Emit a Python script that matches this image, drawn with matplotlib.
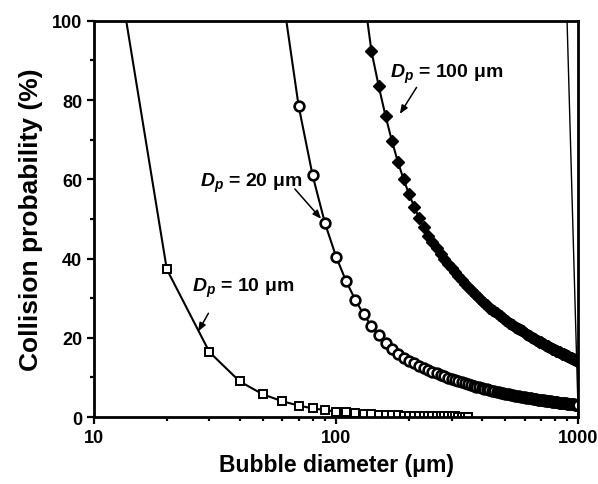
import matplotlib
matplotlib.use('Agg')
import matplotlib.pyplot as plt
from matplotlib.ticker import FixedLocator, NullFormatter

plt.rcParams['font.family'] = ['Liberation Sans', 'DejaVu Sans']
plt.rcParams['font.weight'] = 'bold'
plt.rcParams['mathtext.fontset'] = 'custom'
plt.rcParams['mathtext.it'] = 'Liberation Sans:italic:bold'
plt.rcParams['mathtext.rm'] = 'Liberation Sans:bold'
plt.rcParams['mathtext.bf'] = 'Liberation Sans:bold'

# bubble diameters (um), one point every 10 um
d10_x = list(range(10, 351, 10))
d20_x = list(range(60, 1001, 10))
d100_x = list(range(130, 1001, 10))

# collision probability (%)
d10_y = [150.0, 37.3, 16.4, 9.0, 5.7, 4.0, 2.9, 2.2, 1.75, 1.4,
         1.16, 0.97, 0.83, 0.71, 0.62, 0.55, 0.48, 0.43, 0.39, 0.35,
         0.32, 0.29, 0.27, 0.24, 0.22, 0.21, 0.19, 0.18, 0.17, 0.16,
         0.15, 0.14, 0.13, 0.12, 0.11]

d20_y = [107.0, 78.6, 61.0, 48.9, 40.5,
         34.3, 29.6, 25.9, 23.0, 20.6, 18.7, 17.2, 16.0, 15.0, 14.2,
         13.56, 12.97, 12.43, 11.94, 11.49, 11.07, 10.68, 10.32, 9.98, 9.66,
         9.36, 9.08, 8.82, 8.57, 8.34, 8.12, 7.91, 7.71, 7.52, 7.34,
         7.17, 7.01, 6.85, 6.70, 6.56, 6.42, 6.29, 6.17, 6.05, 5.93,
         5.82, 5.71, 5.61, 5.51, 5.42, 5.33, 5.24, 5.15, 5.07, 4.99,
         4.91, 4.83, 4.76, 4.69, 4.62, 4.55, 4.49, 4.43, 4.37, 4.31,
         4.25, 4.19, 4.14, 4.09, 4.04, 3.99, 3.94, 3.89, 3.84, 3.79,
         3.75, 3.71, 3.67, 3.63, 3.59, 3.55, 3.51, 3.47, 3.43, 3.39,
         3.35, 3.32, 3.28, 3.25, 3.22, 3.18, 3.15, 3.12, 3.09, 3.06]

d100_y = [107.0, 92.3, 83.5, 76.0, 69.7, 64.4, 60.0, 56.3,
          53.1, 50.3, 47.9, 45.8, 44.1, 42.6, 41.2, 39.9, 38.7, 37.6,
          36.5, 35.5, 34.6, 33.7, 32.9, 32.1, 31.4, 30.7, 30.0, 29.4,
          28.8, 28.2, 27.6, 27.1, 26.65, 26.25, 25.85, 25.4, 25.0, 24.6,
          24.2, 23.85, 23.5, 23.15, 22.8, 22.5, 22.2, 21.9, 21.6, 21.3,
          21.0, 20.75, 20.5, 20.25, 20.0, 19.75, 19.5, 19.3, 19.05, 18.85,
          18.65, 18.45, 18.25, 18.05, 17.85, 17.65, 17.45, 17.3, 17.1, 16.95,
          16.8, 16.6, 16.45, 16.3, 16.15, 16.0, 15.85, 15.7, 15.55, 15.4,
          15.3, 15.15, 15.0, 14.9, 14.75, 14.6, 14.5, 14.4, 14.25, 14.1]

# stray steep line at the right edge of the original plot
edge_x = [880, 1000]
edge_y = [120, 0]

fig = plt.figure(figsize=(5.98, 4.85), dpi=100)
ax = fig.add_axes([0.157, 0.138, 0.810, 0.817])

ax.plot(d10_x, d10_y, color='k', lw=1.5, marker='s', ms=5.5, mfc='white', mec='k', mew=1.4)
ax.plot(d20_x, d20_y, color='k', lw=1.5, marker='o', ms=7, mfc='white', mec='k', mew=1.9)
ax.plot(d100_x, d100_y, color='k', lw=1.5, marker='D', ms=6.5, mfc='k', mec='k')
ax.plot(edge_x, edge_y, color='k', lw=1.0)

ax.set_xscale('log')
ax.set_xlim(10, 1000)
ax.set_ylim(0, 100)
ax.xaxis.set_major_locator(FixedLocator([10, 100, 1000]))
ax.set_xticklabels(['10', '100', '1000'])
ax.xaxis.set_minor_locator(FixedLocator([20, 30, 40, 50, 60, 70, 80, 90,
                                         200, 300, 400, 500, 600, 700, 800, 900]))
ax.xaxis.set_minor_formatter(NullFormatter())
ax.yaxis.set_major_locator(FixedLocator([0, 20, 40, 60, 80, 100]))
ax.yaxis.set_minor_locator(FixedLocator([10, 30, 50, 70, 90]))

ax.tick_params(which='major', direction='out', length=5, width=1.6, labelsize=13)
ax.tick_params(which='minor', direction='out', length=3, width=1.6)
for s in ax.spines.values():
    s.set_linewidth(2)

ax.set_xlabel('Bubble diameter (μm)', fontsize=16.5, fontweight='bold', labelpad=5)
ax.set_ylabel('Collision probability (%)', fontsize=19, fontweight='bold', labelpad=6)

arrow = dict(arrowstyle='-|>,head_length=0.5,head_width=0.2', color='k', lw=1.1)
ax.text(25.4, 31.8, r'$D_p$ = 10 μm', fontsize=14, fontweight='bold', va='baseline')
ax.annotate('', xy=(26.6, 21.0), xytext=(30.1, 26.8), arrowprops=arrow)
ax.text(27.4, 58.3, r'$D_p$ = 20 μm', fontsize=14, fontweight='bold', va='baseline')
ax.annotate('', xy=(88.3, 49.5), xytext=(66.4, 58.1), arrowprops=arrow)
ax.text(167, 85.9, r'$D_p$ = 100 μm', fontsize=14, fontweight='bold', va='baseline')
ax.annotate('', xy=(180.8, 75.9), xytext=(218, 83.8), arrowprops=arrow)

fig.savefig('out.png', dpi=100)
